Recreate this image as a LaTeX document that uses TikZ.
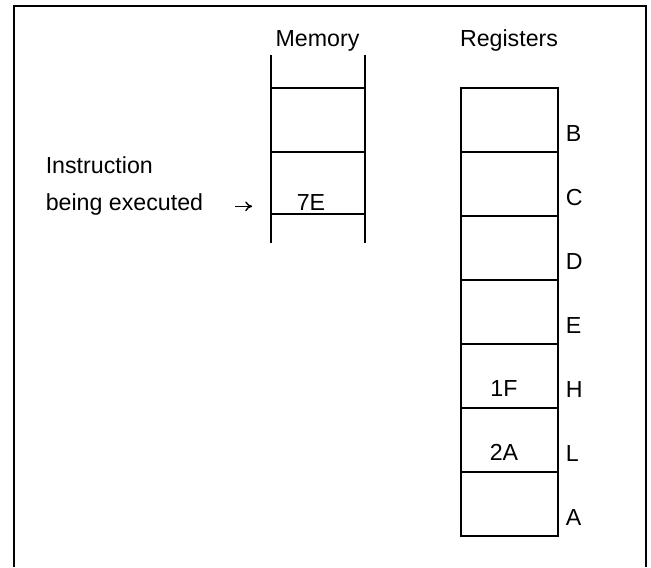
\documentclass[tikz,border=0pt]{standalone}
\usepackage{fontspec}
\setmainfont{Liberation Sans}
\usepackage{tikz}
\usetikzlibrary{arrows.meta}
\tikzstyle{texto}=[inner sep=0pt,anchor=base]
\tikzstyle{rotulo}=[inner sep=0pt,anchor=base west]
\tikzstyle{regcell}=[draw,inner sep=0pt,minimum width=2.425cm,minimum height=1.6cm]
\tikzstyle{memcell}=[draw,inner sep=0pt,minimum width=2.35cm,minimum height=1.6cm]

\begin{document}
\begin{tikzpicture}[x=0.025cm,y=-0.025cm,line width=1.1pt,font=\fontsize{16.5}{20}\selectfont]
    \useasboundingbox (0,0) rectangle (651,567);
    \draw [line width=1.3pt] (14,567) -- (14,6) -- (646,6) -- (646,567);
    % memoria
    \node [texto] (memtitle) at (317.5,46) {Memory};
    \node [memcell] (mem1) at (318,120) {};
    \node [memcell, minimum height=1.55cm] (mem2) at (318,183) {};
    \coordinate (memTL) at (271,55);
    \coordinate (memTR) at (365,55);
    \coordinate (memBL) at (271,243);
    \coordinate (memBR) at (365,243);
    \draw (memTL) -- (memBL);
    \draw (memTR) -- (memBR);
    \node [texto] (val7E) at (311,210) {7E};
    \node [rotulo] (instr) at (45,173) {Instruction};
    \node [rotulo] (exec) at (45,210) {being executed};
    \draw [-{To[length=5pt,width=7pt]}, line width=1pt, shorten <=0.775cm, shorten >=0.45cm]
        (exec.mid east) -- (exec.mid east -| mem2.west);
    % registros
    \node [texto] (regtitle) at (509,46) {Registers};
    \node [regcell] (regB) at (509.5,120) {};
    \node [regcell] (regC) at (509.5,184) {};
    \node [regcell] (regD) at (509.5,248) {};
    \node [regcell] (regE) at (509.5,312) {};
    \node [regcell] (regH) at (509.5,376) {};
    \node [regcell] (regL) at (509.5,440) {};
    \node [regcell] (regA) at (509.5,504) {};
    \node [texto] (val1F) at (504,396) {1F};
    \node [texto] (val2A) at (504,460) {2A};
    \node [rotulo] (labB) at (565,141) {B};
    \node [rotulo] (labC) at (565,205) {C};
    \node [rotulo] (labD) at (565,269) {D};
    \node [rotulo] (labE) at (565,333) {E};
    \node [rotulo] (labH) at (565,397) {H};
    \node [rotulo] (labL) at (565,461) {L};
    \node [rotulo] (labA) at (565,525) {A};
\end{tikzpicture}
\end{document}
